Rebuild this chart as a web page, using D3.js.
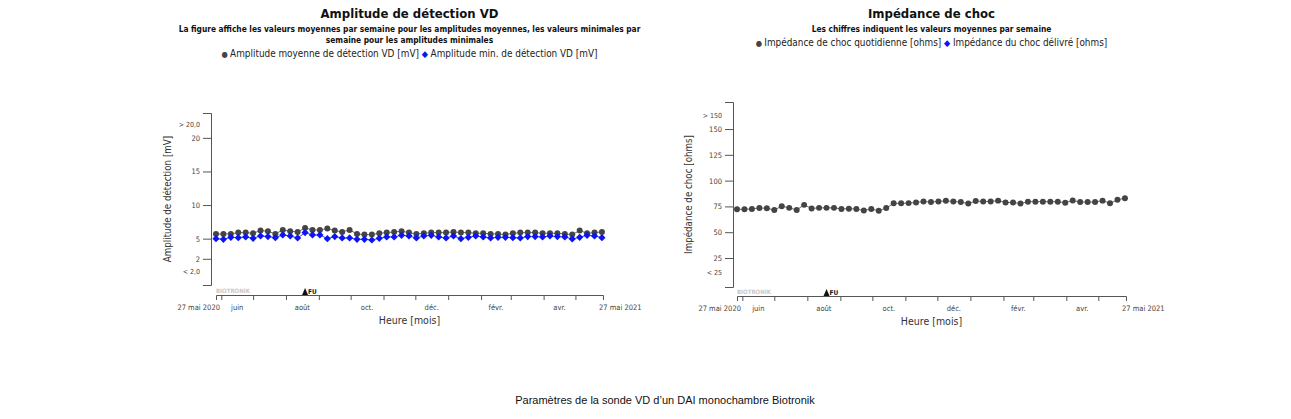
<!DOCTYPE html>
<html>
<head>
<meta charset="utf-8">
<script src="https://cdn.jsdelivr.net/npm/d3@7"></script>
<style>
  body { margin: 0; background: #fff; }
  svg { display: block; }
  .chart text { font-family: "DejaVu Sans Condensed", "DejaVu Sans", sans-serif; }
</style>
</head>
<body>
<svg id="fig" width="1291" height="419"></svg>
<script>
// weekly averages, one point per week starting 27 mai 2020
const ampMean = [5.7, 5.7, 5.7, 5.9, 5.9, 5.8, 6.2, 6.1, 5.7, 6.3, 6.1, 6.0, 6.6, 6.3, 6.3, 6.5, 6.2, 6.0, 6.3, 5.7,
  5.6, 5.6, 5.8, 5.9, 6.0, 6.1, 5.9, 5.7, 5.8, 5.9, 5.9, 5.9, 6.0, 5.9, 5.9, 5.8, 5.8, 5.7, 5.7, 5.6,
  5.8, 5.9, 5.9, 5.9, 5.8, 5.8, 5.8, 5.7, 5.6, 6.2, 5.8, 5.9, 6.0];
const ampMin = [5.0, 4.9, 5.2, 5.15, 5.25, 5.05, 5.4, 5.3, 5.15, 5.55, 5.4, 5.1, 5.9, 5.55, 5.55, 5.0, 5.3, 5.1, 5.1, 4.9,
  4.9, 4.8, 5.05, 5.25, 5.25, 5.5, 5.4, 5.1, 5.4, 5.5, 5.25, 5.1, 5.4, 5.0, 5.2, 5.4, 5.25, 5.1, 5.2, 5.2,
  5.15, 5.1, 5.3, 5.3, 5.25, 5.4, 5.3, 5.25, 4.95, 5.2, 5.5, 5.4, 5.15];
const shockImp = [72.2, 72.2, 72.6, 73.5, 73.2, 71.6, 75.2, 73.6, 71.6, 76.5, 73.0, 73.6, 73.6, 73.6, 72.6, 72.8, 72.4, 71.0, 72.6, 70.8,
  73.4, 78.0, 78.0, 78.2, 78.8, 79.8, 79.2, 79.8, 80.4, 79.8, 79.2, 77.8, 80.2, 79.8, 79.8, 80.6, 78.8, 78.8, 77.8, 79.6,
  79.6, 79.6, 79.6, 79.6, 78.6, 80.8, 79.2, 79.2, 79.2, 80.6, 78.0, 81.4, 83.0];
const shockDelivered = [];

const startDate = new Date(2020, 4, 27);
const endDate = new Date(2021, 4, 27);
const fuDate = new Date(2020, 7, 19);
const weeks = d3.range(ampMean.length).map(i => d3.timeDay.offset(startDate, i * 7));

const monthLabels = [
  { date: new Date(2020, 5, 1), label: 'juin' },
  { date: new Date(2020, 7, 1), label: 'août' },
  { date: new Date(2020, 9, 1), label: 'oct.' },
  { date: new Date(2020, 11, 1), label: 'déc.' },
  { date: new Date(2021, 1, 1), label: 'févr.' },
  { date: new Date(2021, 3, 1), label: 'avr.' }
];

const grey = '#444';
const blue = '#0a14f5';

const svg = d3.select('#fig');

function drawChart(cfg) {
  const g = svg.append('g').attr('class', 'chart');
  const x = d3.scaleTime().domain([startDate, endDate]).range([cfg.x0, cfg.x1]);
  const y = d3.scaleLinear().domain(cfg.yDomain).range([cfg.yBottom, cfg.yTop]);
  const cx = (cfg.x0 + cfg.x1) / 2;

  // titles
  g.append('text').attr('x', cx).attr('y', 18).attr('text-anchor', 'middle')
    .attr('font-size', 13).attr('font-weight', 'bold').attr('fill', '#111').text(cfg.title);
  cfg.subtitle.forEach((s, i) => {
    g.append('text').attr('x', cx).attr('y', 32 + i * 11).attr('text-anchor', 'middle')
      .attr('font-size', 8.3).attr('font-weight', 'bold').attr('fill', '#111').text(s);
  });

  // legend
  const leg = g.append('text').attr('x', cx).attr('y', cfg.legendY).attr('text-anchor', 'middle')
    .attr('font-size', 9.9).attr('fill', '#222');
  leg.append('tspan').attr('fill', grey).attr('font-size', 8).text('● ');
  leg.append('tspan').text(cfg.legend[0] + ' ');
  leg.append('tspan').attr('fill', blue).attr('font-size', 9).text('◆ ');
  leg.append('tspan').text(cfg.legend[1]);

  // y axis
  const yAxis = g.append('g').attr('transform', `translate(${cfg.yAxisX},0)`)
    .call(d3.axisLeft(y).tickValues(cfg.yTicks).tickSize(8).tickSizeOuter(8).tickPadding(3)
      .tickFormat(d3.format('d')));
  yAxis.select('.domain').attr('stroke', '#555');
  yAxis.selectAll('.tick line').attr('stroke', '#555');
  yAxis.selectAll('.tick text').attr('font-size', 7.5).attr('fill', '#444')
    .attr('font-family', '"DejaVu Sans Condensed", sans-serif');
  cfg.yExtra.forEach(e => {
    g.append('text').attr('x', cfg.yAxisX - 11).attr('y', y(e.v)).attr('dy', '0.32em')
      .attr('text-anchor', 'end').attr('font-size', 7).attr('fill', '#444').text(e.t);
  });
  g.append('text')
    .attr('transform', `translate(${cfg.yTitleX},${(cfg.yTop + cfg.yBottom) / 2}) rotate(-90)`)
    .attr('text-anchor', 'middle').attr('font-size', 9.7).attr('fill', '#333').text(cfg.yTitle);

  // x axis
  const xAxis = g.append('g').attr('transform', `translate(0,${cfg.xAxisY})`)
    .call(d3.axisBottom(x).tickValues(d3.timeMonth.range(new Date(2020, 5, 1), endDate))
      .tickSize(5).tickSizeOuter(5).tickFormat(''));
  xAxis.select('.domain').attr('stroke', '#555');
  xAxis.selectAll('.tick line').attr('stroke', '#555');
  monthLabels.forEach(m => {
    const mid = new Date((+m.date + +d3.timeMonth.offset(m.date, 1)) / 2);
    g.append('text').attr('x', x(mid)).attr('y', cfg.xAxisY + 15).attr('text-anchor', 'middle')
      .attr('font-size', 7.5).attr('fill', '#444').text(m.label);
  });
  g.append('text').attr('x', x(startDate) + 4).attr('y', cfg.xAxisY + 15).attr('text-anchor', 'end')
    .attr('font-size', 7.5).attr('fill', '#444').text('27 mai 2020');
  g.append('text').attr('x', x(endDate) - 4).attr('y', cfg.xAxisY + 15).attr('text-anchor', 'start')
    .attr('font-size', 7.5).attr('fill', '#444').text('27 mai 2021');
  g.append('text').attr('x', cx).attr('y', cfg.xAxisY + 28.5).attr('text-anchor', 'middle')
    .attr('font-size', 10.5).attr('fill', '#333').text('Heure [mois]');

  g.append('text').attr('x', cfg.x0).attr('y', cfg.xAxisY - 2)
    .attr('font-size', 6).attr('font-weight', 'bold').attr('fill', '#c8c8c8').text('BIOTRONIK');
  const fx = x(fuDate);
  g.append('path').attr('d', `M${fx - 3},${cfg.xAxisY}L${fx},${cfg.xAxisY - 7}L${fx + 3},${cfg.xAxisY}Z`).attr('fill', '#111');
  g.append('text').attr('x', fx + 3).attr('y', cfg.xAxisY - 1.5)
    .attr('font-size', 6.5).attr('font-weight', 'bold').attr('fill', '#111').text('FU');

  // series
  cfg.series.forEach(s => {
    if (!s.values.length) return;
    const pts = s.values.map((v, i) => ({ d: weeks[i], v }));
    const line = d3.line().x(d => x(d.d)).y(d => y(d.v));
    g.append('path').datum(pts).attr('d', line).attr('fill', 'none')
      .attr('stroke', s.color).attr('stroke-width', 1).attr('opacity', 0.8);
    g.append('g').selectAll('path').data(pts).enter().append('path')
      .attr('transform', d => `translate(${x(d.d)},${y(d.v)}) rotate(${s.rotate})`)
      .attr('d', d3.symbol().type(s.symbol).size(s.size))
      .attr('fill', s.color);
  });
}

drawChart({
  x0: 216, x1: 603, yAxisX: 211, yTop: 113, yBottom: 285, xAxisY: 295, yTitleX: 171,
  yDomain: [-1.9, 23.7], yTicks: [2, 5, 10, 15, 20],
  yExtra: [{ v: 22, t: '> 20,0' }, { v: 0, t: '< 2,0' }],
  title: 'Amplitude de détection VD',
  subtitle: ['La figure affiche les valeurs moyennes par semaine pour les amplitudes moyennes, les valeurs minimales par',
    'semaine pour les amplitudes minimales'],
  legendY: 57,
  legend: ['Amplitude moyenne de détection VD [mV]', 'Amplitude min. de détection VD [mV]'],
  yTitle: 'Amplitude de détection [mV]',
  series: [
    { values: ampMean, color: grey, symbol: d3.symbolCircle, size: 28, rotate: 0 },
    { values: ampMin, color: blue, symbol: d3.symbolSquare, size: 26, rotate: 45 }
  ]
});

drawChart({
  x0: 737, x1: 1126, yAxisX: 733, yTop: 102, yBottom: 287, xAxisY: 296, yTitleX: 692,
  yDomain: [-3.1, 176.2], yTicks: [25, 50, 75, 100, 125, 150],
  yExtra: [{ v: 163, t: '> 150' }, { v: 11, t: '< 25' }],
  title: 'Impédance de choc',
  subtitle: ['Les chiffres indiquent les valeurs moyennes par semaine'],
  legendY: 46,
  legend: ['Impédance de choc quotidienne [ohms]', 'Impédance du choc délivré [ohms]'],
  yTitle: 'Impédance de choc [ohms]',
  series: [
    { values: shockImp, color: grey, symbol: d3.symbolCircle, size: 28, rotate: 0 },
    { values: shockDelivered, color: blue, symbol: d3.symbolSquare, size: 26, rotate: 45 }
  ]
});

svg.append('text').attr('x', 665).attr('y', 404).attr('text-anchor', 'middle')
  .attr('font-family', '"Liberation Sans", Arial, sans-serif').attr('font-size', 11).attr('fill', '#111')
  .text('Paramètres de la sonde VD d’un DAI monochambre Biotronik');
</script>
</body>
</html>
